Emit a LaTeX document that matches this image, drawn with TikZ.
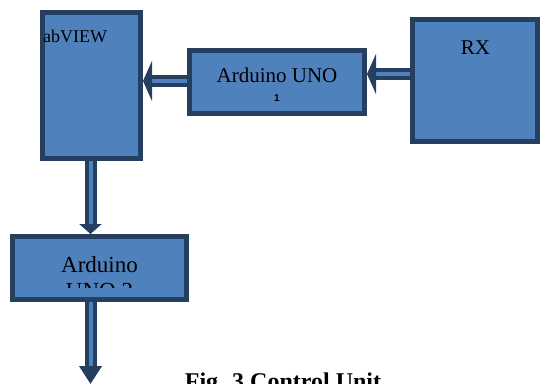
\documentclass[tikz,border=0pt]{standalone}
\usepackage{fontspec}
\setmainfont{Liberation Serif}
\newfontfamily\digitfont{Liberation Sans}
\usetikzlibrary{arrows.meta,positioning}
\definecolor{boxfill}{HTML}{4F81BD}
\definecolor{boxline}{HTML}{243F60}

\begin{document}
\begin{tikzpicture}[x=1pt, y=-1pt]
	\tikzstyle{block} = [draw=boxline, fill=boxfill, line width=5pt, rectangle, inner sep=0pt]
	\tikzstyle{conn} = [draw=boxline, line width=4pt, double=boxfill, double distance=4pt]
	\tikzstyle{txt} = [inner sep=0pt, text=black]

	\useasboundingbox (0,0) rectangle (540,383);
	\clip (0,0) rectangle (540,383);

	% boxes
	\node[block, minimum width=98pt, minimum height=146pt] (lab) at (91.5,85.5) {};
	\node[block, minimum width=175pt, minimum height=63pt] (ard1) at (277,82) {};
	\node[block, minimum width=125pt, minimum height=122pt] (rx) at (475,80.5) {};
	\node[block, minimum width=174pt, minimum height=63pt] (ard2) at (99.5,268) {};

	% texts
	\node[txt, anchor=base west, font=\fontsize{18}{21}\selectfont] (labtxt) at (43,42) {abVIEW};
	\node[txt, anchor=base, font=\fontsize{21}{25}\selectfont] (ard1txt) at (277,82) {Arduino UNO};
	\node[txt, anchor=base, font=\digitfont\bfseries\fontsize{10}{12}\selectfont] (ard1num) at (277,101) {1};
	\node[txt, anchor=base, font=\fontsize{21}{25}\selectfont] (rxtxt) at (475.5,54) {RX};
	\begin{scope}
		\clip (ard2.north west) rectangle (ard2.east |- 0,287);
		\node[txt, anchor=north, align=center, font=\fontsize{23}{26.5}\selectfont] (ard2txt) at (99.5,256) {Arduino\\UNO 2};
	\end{scope}

	% connectors
	\coordinate (ya) at (0,74);
	\coordinate (yb) at (0,81);
	\coordinate (out) at (90.5,384);
	\draw[conn, -{Triangle[width=40pt, length=9pt]}] (rx.west |- ya) -- (ard1.east |- ya);
	\draw[conn, -{Triangle[width=40pt, length=9pt]}] (ard1.west |- yb) -- (lab.east |- yb);
	\draw[conn, -{Triangle[width=22pt, length=10pt]}] (lab.south -| out) -- (ard2.north -| out);
	\draw[conn, -{Triangle[width=22pt, length=18pt]}] (ard2.south -| out) -- (out);

	\node[txt, anchor=base, font=\bfseries\fontsize{24}{28}\selectfont] (cap) at (283,389) {Fig. 3 Control Unit};
\end{tikzpicture}
\end{document}
